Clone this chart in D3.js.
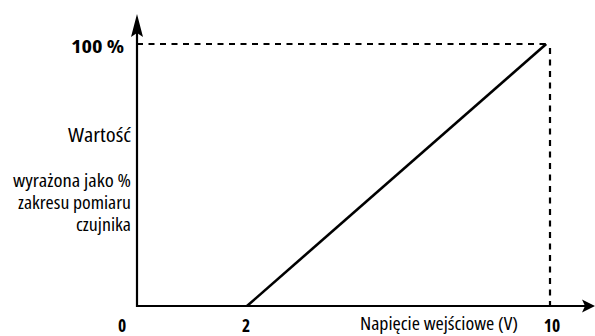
<!DOCTYPE html>
<html><head><meta charset="utf-8">
<script src="https://cdn.jsdelivr.net/npm/d3@7"></script>
<style>
html,body{margin:0;padding:0;background:#fff;}
text{font-family:"Open Sans","Liberation Sans",sans-serif;font-stretch:condensed;fill:#000;}
</style></head>
<body>
<svg id="c" width="595" height="336"></svg>
<script>
// data
const xTicks = [0, 2, 10];
const xTickLabels = ["0", "2", "10"];
const yTopValue = 100;
const yTopLabel = "100 %";
const lineX = [2, 9.9];
const lineY = [0, 100];
const xTitle = "Napięcie wejściowe (V)";
const yTitle = "Wartość";
const ySubtitle = ["wyrażona jako %", "zakresu pomiaru", "czujnika"];

const svg = d3.select("#c");
// schematic (not-to-scale) axis
const x = d3.scaleLinear().domain([0, 2, 10]).range([137, 247, 550]);
const y = d3.scaleLinear().domain([0, 100]).range([306, 44]);

// dashed guides
svg.append("line").attr("x1", x(0)).attr("x2", x(lineX[1])).attr("y1", y(yTopValue)).attr("y2", y(yTopValue))
  .attr("stroke", "#000").attr("stroke-width", 2.2).attr("stroke-dasharray", "6,5.5");
svg.append("line").attr("x1", x(10)).attr("x2", x(10)).attr("y1", y(yTopValue) + 4).attr("y2", y(0))
  .attr("stroke", "#000").attr("stroke-width", 2.2).attr("stroke-dasharray", "6,5.5");

// data line
const pts = lineX.map((d, i) => [d, lineY[i]]);
svg.append("path").datum(pts)
  .attr("d", d3.line().x(d => x(d[0])).y(d => y(d[1])))
  .attr("fill", "none").attr("stroke", "#000").attr("stroke-width", 2.6);

// axes
svg.append("line").attr("x1", x(0)).attr("x2", x(0)).attr("y1", y(0) + 1).attr("y2", 30)
  .attr("stroke", "#000").attr("stroke-width", 2.2);
svg.append("line").attr("x1", x(0) - 1).attr("x2", 586).attr("y1", y(0)).attr("y2", y(0))
  .attr("stroke", "#000").attr("stroke-width", 2.2);
// arrowheads
const ax = x(0);
svg.append("path").attr("d", `M${ax},14 L${ax + 6},37 L${ax},33 L${ax - 6},37 Z`).attr("fill", "#000");
const ay = y(0);
svg.append("path").attr("d", `M595,${ay} L582,${ay - 6.5} L585,${ay} L582,${ay + 6.5} Z`).attr("fill", "#000");

// tick labels
const dxs = [-15, -1, 2];
svg.selectAll("text.xt").data(xTicks).enter().append("text")
  .attr("class", "xt")
  .attr("x", (d, i) => x(d) + dxs[i]).attr("y", 332)
  .attr("text-anchor", "middle").attr("font-size", 17.5).attr("font-weight", "bold")
  .text((d, i) => xTickLabels[i]);

svg.append("text").attr("x", 124).attr("y", 52.5).attr("text-anchor", "end")
  .attr("font-size", 17.5).attr("font-weight", "bold")
  .attr("textLength", 53).attr("lengthAdjust", "spacingAndGlyphs").text(yTopLabel);

svg.append("text").attr("x", 360).attr("y", 330).attr("font-size", 17.5)
  .attr("textLength", 158).attr("lengthAdjust", "spacingAndGlyphs").text(xTitle);

svg.append("text").attr("x", 131).attr("y", 142).attr("text-anchor", "end").attr("font-size", 19.5)
  .attr("textLength", 63).attr("lengthAdjust", "spacingAndGlyphs").text(yTitle);

const subW = [118, 113, 55];
const subY = [187, 209, 230.5];
svg.selectAll("text.ys").data(ySubtitle).enter().append("text")
  .attr("class", "ys")
  .attr("x", 131).attr("y", (d, i) => subY[i]).attr("text-anchor", "end").attr("font-size", 17.5)
  .attr("textLength", (d, i) => subW[i]).attr("lengthAdjust", "spacingAndGlyphs")
  .text(d => d);
</script>
</body></html>
